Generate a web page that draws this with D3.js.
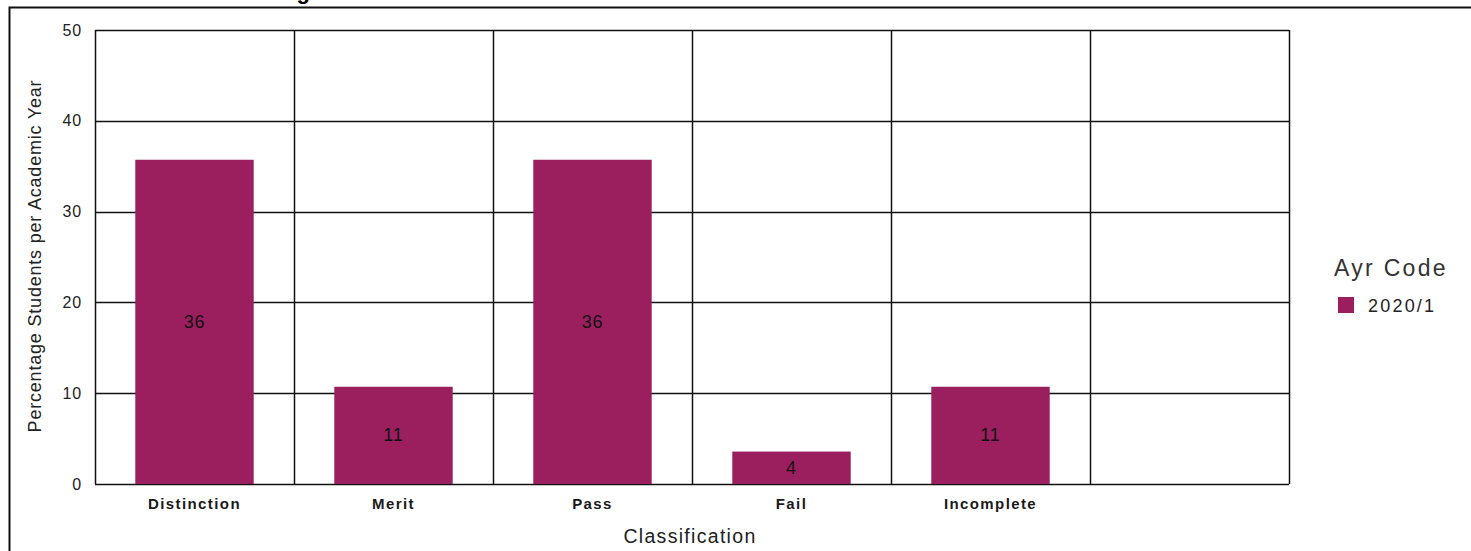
<!DOCTYPE html>
<html><head><meta charset="utf-8">
<script src="https://cdn.jsdelivr.net/npm/d3@7"></script>
<style>html,body{margin:0;padding:0;background:#fff;}svg{display:block;font-family:"Liberation Sans",Arial,sans-serif;}</style>
</head><body>
<script>
const categories = ["Distinction","Merit","Pass","Fail","Incomplete",""];
const values = [35.71, 10.71, 35.71, 3.57, 10.71, null];
const yTicks = [0,10,20,30,40,50];
const seriesName = "2020/1";
const legendTitle = "Ayr Code";
const title = "Classification Percentage of PGT Scores";

const W = 1471, H = 551;
const m = {left:95, right:1289, top:30, bottom:484};
const FONT = "Liberation Sans, Arial, sans-serif";
const svg = d3.select("body").append("svg").attr("width",W).attr("height",H);

// outer frame
svg.append("path").attr("d",`M9.5,${H+5} V7.5 H${W+5}`).attr("fill","none").attr("stroke","#111").attr("stroke-width",2);
svg.append("text").attr("x",20).attr("y",-1).attr("font-weight","bold").attr("font-size",22).attr("letter-spacing",1.5).attr("fill","#000").text(title);

const x = d3.scaleBand().domain(categories.map((c,i)=>i)).range([m.left,m.right]).paddingInner(0).paddingOuter(0);
const y = d3.scaleLinear().domain([0,50]).range([m.bottom,m.top]);

const g = svg.append("g");
// horizontal gridlines
g.selectAll(".hg").data(yTicks).join("line")
  .attr("x1",m.left).attr("x2",m.right).attr("y1",d=>Math.round(y(d))+0.5).attr("y2",d=>Math.round(y(d))+0.5)
  .attr("stroke","#111").attr("stroke-width",1.5);
// vertical gridlines at band boundaries
const bounds = categories.map((c,i)=>x(i)).concat([m.right]);
g.selectAll(".vg").data(bounds).join("line")
  .attr("x1",d=>Math.round(d)+0.5).attr("x2",d=>Math.round(d)+0.5).attr("y1",y(50)).attr("y2",y(0))
  .attr("stroke","#111").attr("stroke-width",1.5);

// bars
const bw = x.bandwidth()*0.595;
const data = values.map((v,i)=>({v,i})).filter(d=>d.v!=null);
g.selectAll(".bar").data(data).join("rect")
  .attr("x",d=>x(d.i)+(x.bandwidth()-bw)/2).attr("width",bw)
  .attr("y",d=>y(d.v)).attr("height",d=>y(0)-y(d.v))
  .attr("fill","#9b1f5e");
g.selectAll(".lbl").data(data).join("text")
  .attr("x",d=>x(d.i)+x.bandwidth()/2).attr("y",d=>(y(d.v)+y(0))/2+6)
  .attr("text-anchor","middle").attr("font-size",18).attr("letter-spacing",0.8).attr("fill","#111")
  .text(d=>Math.round(d.v));

// y axis labels
const yAxis = d3.axisLeft(y).tickValues(yTicks).tickSize(0).tickPadding(13);
const ya = svg.append("g").attr("transform",`translate(${m.left},0)`).call(yAxis);
ya.select(".domain").remove();
ya.selectAll("text").attr("font-size",16).attr("letter-spacing",0.8).attr("fill","#222").attr("font-family",FONT);

// x axis labels
const xAxis = d3.axisBottom(x).tickFormat(i=>categories[i]).tickSize(0).tickPadding(14);
const xa = svg.append("g").attr("transform",`translate(0,${m.bottom})`).call(xAxis);
xa.select(".domain").remove();
xa.selectAll("text").attr("font-size",15).attr("font-weight","bold").attr("letter-spacing",1.4).attr("fill","#1a1a1a").attr("font-family",FONT);

// axis titles
svg.append("text").attr("x",(m.left+m.right)/2 - 2).attr("y",543).attr("text-anchor","middle").attr("font-size",19.5).attr("letter-spacing",1.3).attr("fill","#222").text("Classification");
svg.append("text").attr("transform",`translate(41,256) rotate(-90)`).attr("text-anchor","middle").attr("font-size",18).attr("letter-spacing",0.8).attr("fill","#222").text("Percentage Students per Academic Year");

// legend
svg.append("text").attr("x",1334).attr("y",276).attr("font-size",23).attr("letter-spacing",2.3).attr("fill","#333").text(legendTitle);
svg.append("rect").attr("x",1338).attr("y",297).attr("width",16).attr("height",16).attr("fill","#9b1f5e");
svg.append("text").attr("x",1368).attr("y",312).attr("font-size",18).attr("letter-spacing",2.2).attr("fill","#222").text(seriesName);
</script>
</body></html>
